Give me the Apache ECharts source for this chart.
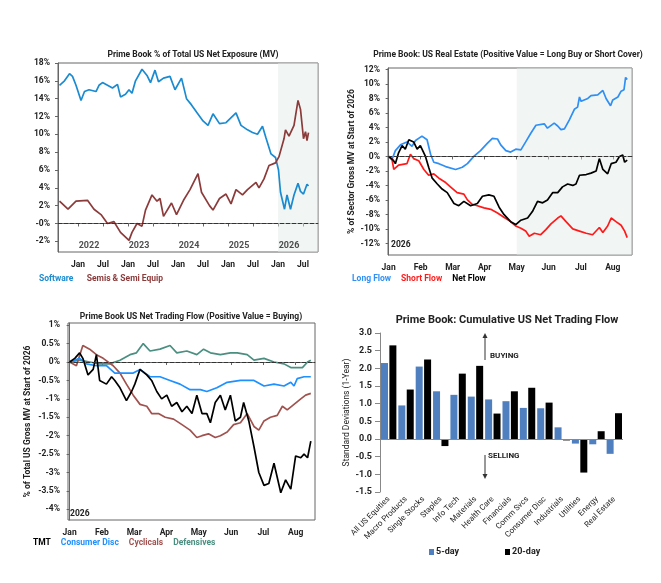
<!DOCTYPE html>
<html><head><meta charset="utf-8">
<script src="https://cdn.jsdelivr.net/npm/echarts@6/dist/echarts.min.js"></script>
<style>html,body{margin:0;padding:0;background:#fff}#c{width:661px;height:583px}</style>
</head><body><div id="c"></div>
<script>
// Panel 1: decimal years, % of net exposure
const softwareX=[2021.63,2021.73,2021.83,2021.89,2021.96,2022.06,2022.13,2022.22,2022.36,2022.42,2022.49,2022.59,2022.69,2022.79,2022.85,2022.95,2023.02,2023.08,2023.15,2023.28,2023.38,2023.45,2023.54,2023.61,2023.71,2023.84,2023.94,2024.07,2024.17,2024.27,2024.37,2024.50,2024.60,2024.70,2024.83,2024.96,2025.16,2025.26,2025.39,2025.49,2025.59,2025.69,2025.76,2025.86,2025.95,2026.01,2026.05,2026.13,2026.18,2026.25,2026.32,2026.40,2026.45,2026.51,2026.58,2026.61];
const softwareY=[15.5,16.0,16.8,16.5,15.5,13.8,14.8,15.0,14.8,15.5,15.8,15.5,15.2,15.6,14.2,14.5,15.0,14.6,16.0,17.3,16.6,15.8,17.2,15.9,16.3,16.5,15.0,16.3,14.0,13.3,12.5,11.5,11.0,12.3,11.2,11.3,12.4,11.0,10.5,10.2,10.0,10.9,9.6,7.8,7.4,6.0,3.5,1.6,3.2,1.6,3.2,4.5,3.6,3.3,4.4,4.2];
const semisX=[2021.63,2021.80,2021.96,2022.19,2022.32,2022.46,2022.59,2022.72,2022.85,2023.02,2023.08,2023.18,2023.28,2023.35,2023.48,2023.58,2023.64,2023.71,2023.87,2023.97,2024.11,2024.24,2024.40,2024.47,2024.63,2024.70,2024.83,2024.96,2025.06,2025.16,2025.29,2025.39,2025.56,2025.62,2025.72,2025.82,2025.95,2026.02,2026.12,2026.15,2026.22,2026.32,2026.40,2026.45,2026.51,2026.55,2026.58,2026.61];
const semisY=[2.5,1.6,2.5,2.6,1.6,1.0,0.0,0.2,-1.0,-1.9,-1.0,0.0,-0.3,1.5,3.2,2.5,2.8,0.8,2.3,1.0,2.6,3.8,5.6,3.5,2.0,1.5,2.8,3.3,2.2,3.8,3.2,3.8,4.6,4.0,5.0,6.5,6.8,7.5,9.5,10.5,9.8,11.0,13.8,12.8,9.5,10.3,9.3,10.2];
const yearLabels=['2022','2023','2024','2025','2026'];
const yearLabelX=[2022.22,2023.22,2024.22,2025.22,2026.22];
// Panel 2: months since Jan 2026
const longX=[0,0.1,0.21,0.37,0.57,0.73,0.84,1.04,1.2,1.31,1.41,1.57,1.78,2.09,2.3,2.46,2.66,2.87,3.08,3.24,3.4,3.5,3.66,3.81,3.97,4.13,4.28,4.44,4.6,4.86,4.96,5.17,5.28,5.38,5.49,5.64,5.8,5.9,5.96,6.01,6.22,6.32,6.53,6.69,6.79,6.93,7.0,7.16,7.26,7.35,7.4,7.45];
const longY=[0,-0.5,0.8,1.6,2.0,1.4,2.2,2.8,2.3,0.3,-0.8,-1.0,-1.4,-1.8,-1.5,-1.0,0.0,0.8,1.8,2.5,2.4,1.6,0.8,0.6,1.0,0.9,2.0,3.2,4.3,4.5,3.9,4.6,4.2,3.7,3.8,5.0,6.5,6.8,8.2,7.6,8.0,8.4,8.5,9.1,8.0,7.0,7.8,8.2,9.0,9.2,10.9,10.6];
const shortX=[0,0.1,0.16,0.31,0.57,0.68,0.78,0.94,1.1,1.25,1.41,1.57,1.78,1.93,2.14,2.35,2.46,2.61,2.77,2.98,3.19,3.4,3.6,3.81,3.97,4.13,4.28,4.39,4.55,4.75,4.91,5.07,5.28,5.38,5.54,5.75,5.96,6.17,6.37,6.58,6.69,6.84,6.95,7.1,7.26,7.37,7.45];
const shortY=[0,-0.3,-1.8,-1.2,-1.0,0.3,-0.3,-0.6,-1.8,-2.6,-2.4,-3.0,-3.6,-4.2,-5.0,-5.2,-6.0,-6.6,-6.8,-7.1,-7.3,-7.8,-8.4,-9.0,-9.6,-9.9,-10.3,-11.0,-10.6,-10.8,-10.1,-9.3,-8.5,-8.2,-9.0,-10.0,-10.3,-10.6,-10.8,-9.8,-10.5,-9.6,-8.5,-9.0,-9.5,-10.3,-11.2];
const netX=[0,0.14,0.21,0.31,0.42,0.52,0.63,0.78,0.89,0.99,1.15,1.25,1.36,1.52,1.67,1.83,2.04,2.19,2.35,2.56,2.77,2.93,3.13,3.29,3.45,3.6,3.81,3.97,4.13,4.34,4.49,4.65,4.81,4.96,5.12,5.28,5.43,5.59,5.75,5.85,5.96,6.17,6.32,6.48,6.53,6.58,6.69,6.84,6.95,7.1,7.21,7.31,7.37,7.45];
const netY=[0,-0.5,-1.0,0.5,1.5,1.0,2.3,2.0,1.0,1.5,0.0,-1.5,-3.0,-3.8,-4.5,-5.0,-6.5,-6.8,-6.2,-6.8,-6.5,-5.5,-5.3,-5.5,-7.0,-8.0,-9.0,-9.4,-8.8,-8.5,-7.6,-6.2,-6.4,-6.0,-5.0,-5.0,-4.2,-3.8,-4.0,-3.8,-2.6,-2.5,-2.3,-2.0,-1.8,-0.3,-1.8,-2.4,-1.0,-0.8,0.0,0.2,-0.8,-0.5];
// Panel 3
const tmtX=[0,0.16,0.31,0.41,0.57,0.73,0.83,0.93,1.14,1.3,1.4,1.56,1.76,1.92,2.02,2.18,2.39,2.54,2.7,2.85,3.01,3.16,3.32,3.48,3.63,3.79,3.94,4.1,4.25,4.36,4.51,4.67,4.82,4.98,5.13,5.29,5.39,5.55,5.71,5.86,6.02,6.17,6.33,6.54,6.69,6.85,7.0,7.16,7.26,7.37,7.47];
const tmtY=[0,0.1,0.25,0.1,-0.35,-0.2,0.2,-0.5,-0.6,-0.4,-0.5,-0.7,-1.05,-0.8,-0.6,-0.2,-0.35,-0.5,-0.8,-1.0,-0.9,-1.2,-1.1,-1.35,-1.2,-1.4,-0.9,-1.4,-1.4,-1.65,-1.1,-0.9,-1.3,-0.9,-1.6,-1.5,-1.1,-1.6,-2.3,-3.0,-3.35,-3.3,-2.75,-3.55,-3.2,-3.45,-2.55,-2.6,-2.5,-2.6,-2.15];
const discX=[0,0.31,0.52,0.83,1.14,1.4,1.66,1.97,2.18,2.49,2.8,3.11,3.42,3.73,4.05,4.25,4.56,4.88,5.29,5.71,6.02,6.33,6.64,6.85,6.95,7.05,7.26,7.47];
const discY=[0,0.1,-0.05,-0.1,-0.1,-0.3,-0.3,-0.3,-0.2,-0.4,-0.4,-0.5,-0.6,-0.75,-0.75,-0.8,-0.7,-0.55,-0.5,-0.5,-0.65,-0.6,-0.65,-0.55,-0.65,-0.45,-0.4,-0.4];
const cycX=[0,0.21,0.41,0.62,0.83,1.04,1.35,1.56,1.76,1.97,2.18,2.39,2.54,2.75,2.96,3.22,3.48,3.73,3.94,4.1,4.3,4.51,4.67,4.88,5.08,5.29,5.5,5.71,5.86,6.02,6.22,6.43,6.59,6.74,6.95,7.16,7.31,7.47];
const cycY=[0,-0.1,0.45,0.35,0.2,0.1,-0.1,-0.3,-0.6,-0.9,-1.15,-1.2,-1.4,-1.4,-1.5,-1.55,-1.7,-1.85,-2.05,-2.0,-1.95,-2.05,-2.0,-1.9,-1.7,-1.65,-1.4,-1.75,-1.85,-1.6,-1.5,-1.45,-1.2,-1.3,-1.15,-1.0,-0.9,-0.85];
const defX=[0,0.31,0.62,0.93,1.24,1.56,1.87,2.07,2.28,2.49,2.8,3.11,3.32,3.63,3.94,4.15,4.36,4.67,4.98,5.19,5.5,5.71,6.02,6.33,6.64,6.85,7.0,7.21,7.37,7.47];
const defY=[0,0.05,0.0,-0.05,-0.05,0.05,0.2,0.25,0.5,0.3,0.35,0.45,0.25,0.3,0.2,0.35,0.25,0.2,0.25,0.25,0.2,0.05,0.1,0.0,-0.05,-0.15,-0.15,-0.15,0.0,0.05];
const monthLabels=['Jan','Feb','Mar','Apr','May','Jun','Jul','Aug'];
// Panel 4
const barCats=['All US Equities','Macro Products','Single Stocks','Staples','Info Tech','Materials','Health Care','Financials','Comm Svcs','Consumer Disc','Industrials','Utilities','Energy','Real Estate'];
const fiveDay=[2.15,0.95,2.05,1.35,1.25,1.2,1.12,1.07,0.88,0.87,0.33,-0.13,-0.15,-0.42];
const twentyDay=[2.65,1.4,2.25,-0.2,1.85,2.07,0.72,1.35,1.45,1.03,-0.04,-0.95,0.22,0.73];

const zip=(a,b)=>a.map((v,i)=>[v,b[i]]);
const F='Roboto';
const lab={color:'#222',fontSize:8.5,fontWeight:'bold',fontFamily:F};
const mon=[0,1,2,3,4,5,6,7];
const zeroLine={silent:true,symbol:'none',label:{show:false},lineStyle:{type:'dashed',color:'#333',width:1},data:[{yAxis:0}]};
const shade=(a,b)=>({silent:true,itemStyle:{color:'rgba(225,232,228,0.45)'},data:[[{xAxis:a},{xAxis:b}]]});
const line=(xi,x,y,c,extra)=>Object.assign({type:'line',xAxisIndex:xi,yAxisIndex:xi,data:zip(x,y),showSymbol:false,symbol:'none',lineStyle:{color:c,width:1.7},itemStyle:{color:c},animation:false},extra||{});
const gridBox={show:true,borderColor:'#666',borderWidth:1,backgroundColor:'transparent'};

const option={
 animation:false,
 textStyle:{fontFamily:F},
 title:[
  {text:'Prime Book % of Total US Net Exposure (MV)',left:188,top:45,textAlign:'center',textStyle:{fontSize:8.5,fontWeight:'bold',fontFamily:F,color:'#222'}},
  {text:'Prime Book: US Real Estate (Positive Value = Long Buy or Short Cover)',left:503,top:45,textAlign:'center',textStyle:{fontSize:8.5,fontWeight:'bold',fontFamily:F,color:'#222'}},
  {text:'Prime Book US Net Trading Flow (Positive Value = Buying)',left:186,top:307,textAlign:'center',textStyle:{fontSize:8.5,fontWeight:'bold',fontFamily:F,color:'#222'}},
  {text:'Prime Book: Cumulative US Net Trading Flow',left:502,top:310,textAlign:'center',textStyle:{fontSize:11,fontWeight:'bold',fontFamily:F,color:'#222'}}
 ],
 grid:[
  Object.assign({left:58,top:63,width:260,height:189},gridBox),
  Object.assign({left:388,top:68,width:244,height:187},gridBox),
  Object.assign({left:68,top:323,width:247,height:197},gridBox),
  {left:380,top:333,width:243,height:159}
 ],
 xAxis:[
  {gridIndex:0,type:'value',min:2021.6,max:2026.8,splitLine:{show:false},axisLine:{lineStyle:{color:'#666'}},
   axisTick:{customValues:[2022,2022.5,2023,2023.5,2024,2024.5,2025,2025.5,2026,2026.5],length:3},
   axisLabel:Object.assign({},lab,{customValues:[2022,2022.5,2023,2023.5,2024,2024.5,2025,2025.5,2026,2026.5],formatter:v=>(Math.abs(v-Math.round(v))<0.01?'Jan':'Jul')})},
  {gridIndex:1,type:'value',min:-0.02,max:7.6,splitLine:{show:false},axisLine:{lineStyle:{color:'#666'}},
   axisTick:{customValues:mon,length:3},axisLabel:Object.assign({},lab,{customValues:mon,formatter:v=>monthLabels[Math.round(v)]})},
  {gridIndex:2,type:'value',min:-0.05,max:7.6,splitLine:{show:false},axisLine:{lineStyle:{color:'#666'}},
   axisTick:{customValues:mon,length:3},axisLabel:Object.assign({},lab,{customValues:mon,formatter:v=>monthLabels[Math.round(v)]})},
  {gridIndex:3,type:'category',data:barCats,axisLine:{show:false,onZero:false},axisTick:{show:false},
   axisLabel:{interval:0,rotate:45,fontSize:8,color:'#222',fontFamily:F,margin:6}}
 ],
 yAxis:[
  {gridIndex:0,type:'value',min:-3.2,max:18,splitLine:{show:false},axisLine:{show:true,lineStyle:{color:'#666'}},
   axisTick:{show:true,customValues:[-2,0,2,4,6,8,10,12,14,16,18],length:3},
   axisLabel:Object.assign({},lab,{customValues:[-2,0,2,4,6,8,10,12,14,16,18],formatter:v=>(v===0?'-0%':v+'%')})},
  {gridIndex:1,type:'value',min:-13.6,max:12.2,splitLine:{show:false},axisLine:{show:true,lineStyle:{color:'#666'}},
   axisTick:{show:true,customValues:[-12,-10,-8,-6,-4,-2,0,2,4,6,8,10,12],length:3},
   axisLabel:Object.assign({},lab,{customValues:[-12,-10,-8,-6,-4,-2,0,2,4,6,8,10,12],formatter:v=>v+'%'}),
   name:'% of Sector Gross MV at Start of 2026',nameLocation:'middle',nameGap:28,nameTextStyle:{fontSize:8.5,fontWeight:'bold',color:'#222',fontFamily:F}},
  {gridIndex:2,type:'value',min:-4.29,max:1.06,splitLine:{show:false},axisLine:{show:true,lineStyle:{color:'#666'}},
   axisTick:{show:true,customValues:[-4,-3.5,-3,-2.5,-2,-1.5,-1,-0.5,0,0.5,1],length:3},
   axisLabel:Object.assign({},lab,{customValues:[-4,-3.5,-3,-2.5,-2,-1.5,-1,-0.5,0,0.5,1],formatter:v=>v+'%'}),
   name:'% of Total US Gross MV at Start of 2026',nameLocation:'middle',nameGap:36,nameTextStyle:{fontSize:8.5,fontWeight:'bold',color:'#222',fontFamily:F}},
  {gridIndex:3,type:'value',min:-1.5,max:3,interval:0.5,splitLine:{show:false},axisLine:{show:true,lineStyle:{color:'#888'}},axisTick:{show:true,lineStyle:{color:'#888'}},
   axisLabel:{fontSize:9,fontWeight:'bold',color:'#222',fontFamily:F,formatter:v=>v.toFixed(1)},
   name:'Standard Deviations (1-Year)',nameLocation:'middle',nameGap:25,nameTextStyle:{fontSize:8.5,color:'#222',fontFamily:F}}
 ],
 series:[
  line(0,softwareX,softwareY,'#1a8bd0',{markArea:shade(2026,2026.8),markLine:zeroLine}),
  line(0,semisX,semisY,'#8c3b3b'),
  {type:'scatter',xAxisIndex:0,yAxisIndex:0,symbolSize:0,data:yearLabelX.map((x,i)=>({value:[x,-2.55],label:{formatter:yearLabels[i]}})),
   label:{show:true,position:'inside',fontSize:9,fontWeight:'bold',color:'#222',fontFamily:F},silent:true},
  line(1,longX,longY,'#2f8ff5',{markArea:shade(4,7.6),markLine:zeroLine}),
  line(1,shortX,shortY,'#ff1a1a'),
  line(1,netX,netY,'#000'),
  line(2,defX,defY,'#4a8f80',{markLine:zeroLine}),
  line(2,cycX,cycY,'#a0524f'),
  line(2,discX,discY,'#1e90ff'),
  line(2,tmtX,tmtY,'#000'),
  {type:'bar',name:'5-day',xAxisIndex:3,yAxisIndex:3,data:fiveDay,itemStyle:{color:'#4f7fbf'},barWidth:7,barGap:'20%',
   markLine:{silent:true,symbol:'none',label:{show:false},lineStyle:{type:'solid',color:'#888',width:1},data:[{yAxis:0}]}},
  {type:'bar',name:'20-day',xAxisIndex:3,yAxisIndex:3,data:twentyDay,itemStyle:{color:'#000'},barWidth:7}
 ],
 graphic:[
  {type:'text',left:39,top:273,style:{rich:{a:{fill:'#1a8bd0',fontSize:8.5,fontWeight:'bold',fontFamily:F},b:{fill:'#8c3b3b',fontSize:8.5,fontWeight:'bold',fontFamily:F}},text:'{a|Software}    {b|Semis & Semi Equip}'}},
  {type:'text',left:352,top:273,style:{rich:{a:{fill:'#2f8ff5',fontSize:8.5,fontWeight:'bold',fontFamily:F},b:{fill:'#ff1a1a',fontSize:8.5,fontWeight:'bold',fontFamily:F},c:{fill:'#000',fontSize:8.5,fontWeight:'bold',fontFamily:F}},text:'{a|Long Flow}   {b|Short Flow}   {c|Net Flow}'}},
  {type:'text',left:33,top:537,style:{rich:{a:{fill:'#000',fontSize:8.5,fontWeight:'bold',fontFamily:F},b:{fill:'#1e90ff',fontSize:8.5,fontWeight:'bold',fontFamily:F},c:{fill:'#a0524f',fontSize:8.5,fontWeight:'bold',fontFamily:F},d:{fill:'#4a8f80',fontSize:8.5,fontWeight:'bold',fontFamily:F}},text:'{a|TMT}   {b|Consumer Disc}   {c|Cyclicals}   {d|Defensives}'}},
  {type:'text',left:391,top:240,style:{text:'2026',fill:'#222',fontSize:8.5,fontWeight:'bold',fontFamily:F}},
  {type:'text',left:70,top:509,style:{text:'2026',fill:'#222',fontSize:8.5,fontWeight:'bold',fontFamily:F}},
  {type:'rect',left:429,top:549,shape:{width:5,height:6},style:{fill:'#4f7fbf'}},
  {type:'text',left:436,top:547,style:{text:'5-day',fill:'#222',fontSize:9,fontWeight:'bold',fontFamily:F}},
  {type:'rect',left:505,top:549,shape:{width:5,height:6},style:{fill:'#000'}},
  {type:'text',left:512,top:547,style:{text:'20-day',fill:'#222',fontSize:9,fontWeight:'bold',fontFamily:F}},
  {type:'text',left:490,top:352,style:{text:'BUYING',fill:'#222',fontSize:8,fontWeight:'bold',fontFamily:F}},
  {type:'text',left:488,top:452,style:{text:'SELLING',fill:'#222',fontSize:8,fontWeight:'bold',fontFamily:F}},
  {type:'line',shape:{x1:485,y1:360,x2:485,y2:335},style:{stroke:'#333',lineWidth:1}},
  {type:'polygon',shape:{points:[[482.5,338],[487.5,338],[485,333]]},style:{fill:'#333'}},
  {type:'line',shape:{x1:485,y1:455,x2:485,y2:477},style:{stroke:'#333',lineWidth:1}},
  {type:'polygon',shape:{points:[[482.5,474],[487.5,474],[485,479]]},style:{fill:'#333'}}
 ]
};
const chart=echarts.init(document.getElementById('c'));
chart.setOption(option);
</script></body></html>
